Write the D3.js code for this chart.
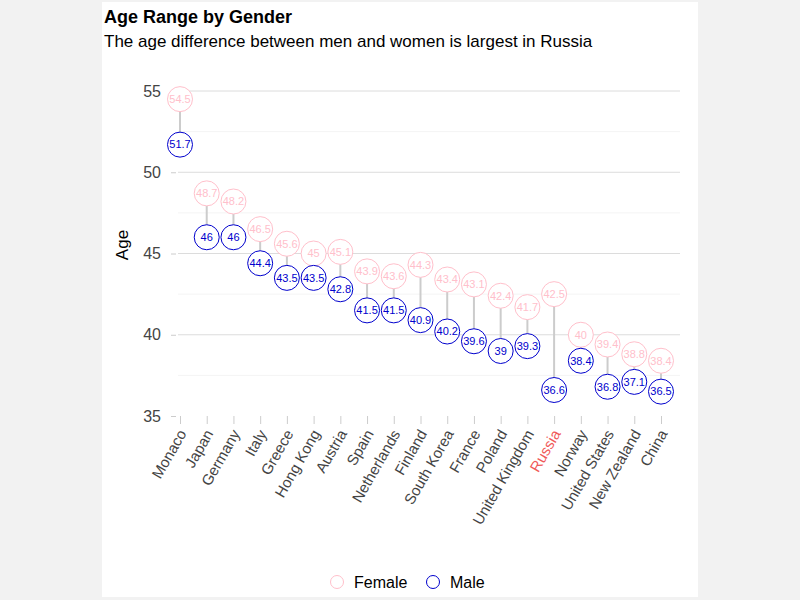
<!DOCTYPE html>
<html>
<head>
    <title></title>
    <meta charset="utf-8">
    <style>
        body { margin: 0; background: #f2f2f2; font-family: "Liberation Sans", Arial, sans-serif; }
    </style>
</head>
<body>
<script src="https://d3js.org/d3.v7.min.js"></script>
<script>
    // data
    var countries = ['Monaco', 'Japan', 'Germany', 'Italy', 'Greece', 'Hong Kong', 'Austria', 'Spain',
        'Netherlands', 'Finland', 'South Korea', 'France', 'Poland', 'United Kingdom', 'Russia',
        'Norway', 'United States', 'New Zealand', 'China'];
    var female = [54.5, 48.7, 48.2, 46.5, 45.6, 45, 45.1, 43.9, 43.6, 44.3, 43.4, 43.1, 42.4, 41.7, 42.5, 40, 39.4, 38.8, 38.4];
    var male = [51.7, 46, 46, 44.4, 43.5, 43.5, 42.8, 41.5, 41.5, 40.9, 40.2, 39.6, 39, 39.3, 36.6, 38.4, 36.8, 37.1, 36.5];
    var yTicks = [35, 40, 45, 50, 55];
    var highlight = 'Russia';

    var svg = d3.select('body').append('svg')
        .attr('width', 800)
        .attr('height', 600)
        .style('display', 'block');

    // white card
    svg.append('rect')
        .attr('x', 102).attr('y', 2)
        .attr('width', 596).attr('height', 595)
        .style('fill', '#fff');

    svg.append('text')
        .attr('x', 104).attr('y', 23)
        .style('font-size', '18px').style('font-weight', 'bold')
        .text('Age Range by Gender');
    svg.append('text')
        .attr('x', 104).attr('y', 47)
        .style('font-size', '17px')
        .text('The age difference between men and women is largest in Russia');

    var x = d3.scalePoint().domain(countries).range([180, 661]);
    var y = d3.scaleLinear().domain([35, 55]).range([416, 91]);

    // faint minor grid
    svg.append('g').selectAll('line')
        .data([37.5, 42.5, 47.5, 52.5])
        .enter().append('line')
        .attr('x1', 178).attr('x2', 680)
        .attr('y1', function (d) { return y(d); })
        .attr('y2', function (d) { return y(d); })
        .style('stroke', '#f4f4f4');

    // major grid
    svg.append('g').selectAll('line')
        .data(yTicks.slice(1))
        .enter().append('line')
        .attr('x1', 178).attr('x2', 680)
        .attr('y1', function (d) { return y(d); })
        .attr('y2', function (d) { return y(d); })
        .style('stroke', '#dcdcdc');

    // y axis
    var yAxis = svg.append('g')
        .attr('transform', 'translate(176,0)')
        .call(d3.axisLeft(y).tickValues(yTicks).tickSize(5).tickPadding(10));
    yAxis.select('.domain').remove();
    yAxis.selectAll('line').style('stroke', '#ccc');
    yAxis.selectAll('text').style('font-size', '16px').style('fill', '#444')
        .style('font-family', '"Liberation Sans", Arial, sans-serif');

    svg.append('text')
        .attr('transform', 'translate(128,245) rotate(-90)')
        .attr('text-anchor', 'middle')
        .style('font-size', '17px')
        .text('Age');

    // x axis
    var xAxis = svg.append('g')
        .attr('transform', 'translate(0,416)')
        .call(d3.axisBottom(x).tickSize(8).tickPadding(4));
    xAxis.select('.domain').remove();
    xAxis.selectAll('line').style('stroke', '#ccc');
    xAxis.selectAll('text')
        .style('font-size', '15px')
        .style('font-family', '"Liberation Sans", Arial, sans-serif')
        .style('fill', function (d) { return d === highlight ? '#f05a5a' : '#444'; })
        .attr('text-anchor', 'end')
        .attr('x', 0).attr('y', 0)
        .attr('dy', '0.35em')
        .attr('transform', 'translate(2,15) rotate(-60)');

    var rows = countries.map(function (c, i) { return { c: c, f: female[i], m: male[i] }; });

    // connectors
    svg.append('g').selectAll('line')
        .data(rows)
        .enter().append('line')
        .attr('x1', function (d) { return x(d.c); })
        .attr('x2', function (d) { return x(d.c); })
        .attr('y1', function (d) { return y(d.f); })
        .attr('y2', function (d) { return y(d.m); })
        .style('stroke', '#ccc')
        .style('stroke-width', 2);

    function dots(key, color) {
        var g = svg.append('g').selectAll('g')
            .data(rows)
            .enter().append('g')
            .attr('transform', function (d) { return 'translate(' + x(d.c) + ',' + y(d[key]) + ')'; });
        g.append('circle')
            .attr('r', 12.5)
            .style('fill', '#fff')
            .style('stroke', color);
        g.append('text')
            .attr('text-anchor', 'middle')
            .attr('dy', '0.35em')
            .style('font-size', '11px')
            .style('fill', color)
            .text(function (d) { return d[key]; });
    }
    dots('f', 'pink');
    dots('m', 'mediumblue');

    // legend
    var legend = [['Female', 'pink', 337], ['Male', 'mediumblue', 433]];
    legend.forEach(function (l) {
        svg.append('circle')
            .attr('cx', l[2]).attr('cy', 582).attr('r', 6.5)
            .style('fill', '#fff').style('stroke', l[1]);
        svg.append('text')
            .attr('x', l[2] + 17).attr('y', 582).attr('dy', '0.35em')
            .style('font-size', '16px')
            .text(l[0]);
    });
</script>
</body>
</html>
